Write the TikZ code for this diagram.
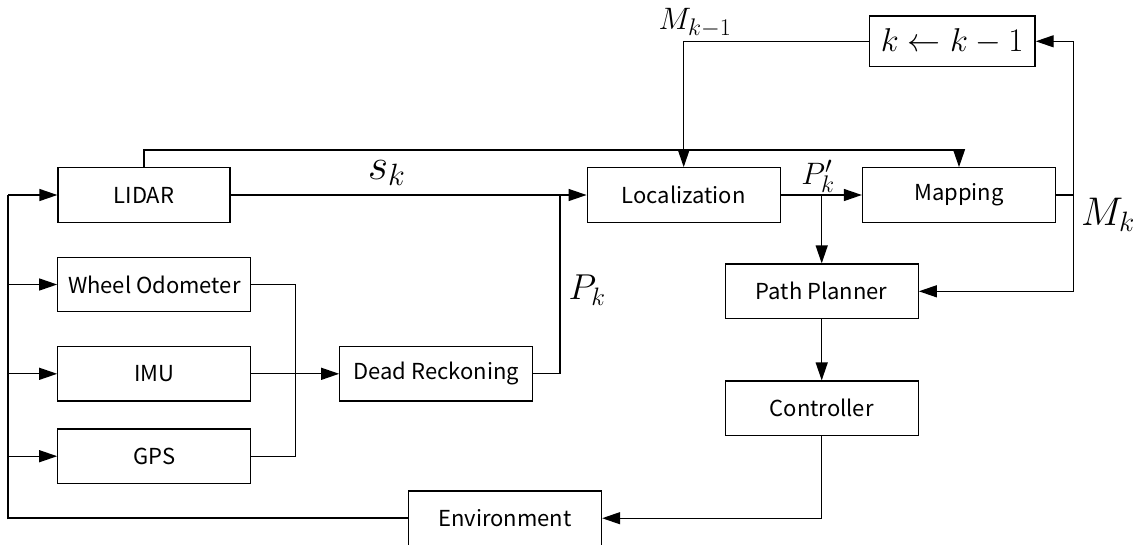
\RequirePackage{fix-cm}
\documentclass[tikz,border=0pt]{standalone}
\usepackage{fontspec}
\newfontfamily\boxfont{Noto Sans CJK JP}
\usetikzlibrary{arrows.meta}
\DeclareMathSizes{31}{31}{24}{18}
\tikzset{
  blk/.style={draw, line width=1.3pt, inner sep=0pt, minimum height=54.5pt, minimum width=193pt, font=\boxfont\fontsize{22}{26}\selectfont},
  conn/.style={line width=1.3pt},
  arr/.style={conn, -{Triangle[length=18pt,width=12pt]}},
  lbl/.style={inner sep=0pt},
}
\begin{document}
\begin{tikzpicture}[x=1pt,y=-1pt]
\useasboundingbox (0,0) rectangle (1139,544);
% boxes
\node[blk, minimum width=172pt] (lidar) at (144,195) {LIDAR};
\node[blk] (wheel) at (154.3,284.5) {Wheel Odometer};
\node[blk] (imu) at (154.3,373.8) {IMU};
\node[blk] (gps) at (154.3,456.2) {GPS};
\node[blk] (dead) at (436.3,373.8) {Dead Reckoning};
\node[blk] (loc) at (683.7,195) {Localization};
\node[blk] (map) at (959,195) {Mapping};
\node[blk, minimum width=165.7pt, minimum height=50.7pt, font=\fontsize{33}{36}\selectfont] (kbox) at (952.2,41.3) {$k\leftarrow k-1$};
\node[blk] (path) at (821.7,291.3) {Path Planner};
\node[blk] (ctrl) at (821.7,408.3) {Controller};
\node[blk] (env) at (505,518.2) {Environment};
% coordinates
\coordinate (left) at (8,195);
\coordinate (merge) at (295.7,373.8);
\coordinate (pk) at (560,195);
\coordinate (branch) at (821.7,195);
\coordinate (mk) at (1073.3,195);
% connectors
\draw[arr] (lidar.east) -- (loc.west);
\draw[arr] (lidar.north) |- (959,150) -- (map.north);
\draw[arr] (kbox.west) -| (loc.north);
\draw[conn] (dead.east) -| (pk);
\draw[conn] (wheel.east) -| (merge);
\draw[conn] (gps.east) -| (merge);
\draw[arr] (imu.east) -- (dead.west);
\draw[arr] (loc.east) -- (map.west);
\draw[arr] (branch) -- (path.north);
\draw[conn] (map.east) -- (mk);
\draw[arr] (mk) |- (kbox.east);
\draw[arr] (mk) |- (path.east);
\draw[arr] (path.south) -- (ctrl.north);
\draw[arr] (ctrl.south) |- (env.east);
\draw[line width=2.2pt] (env.west) -- (8,518.2);
\draw[line width=1.6pt] (8,519.3) -- (left);
\draw[arr] (left) -- (lidar.west);
\draw[arr] (8,284.5) -- (wheel.west);
\draw[arr] (8,373.8) -- (imu.west);
\draw[arr] (8,456.2) -- (gps.west);
% labels
\node[lbl, font=\fontsize{44}{48}\selectfont] (sk) at (386.7,173) {$s_k$};
\node[lbl, font=\fontsize{36}{40}\selectfont] (pklbl) at (587,290) {$P_k$};
\node[lbl, font=\fontsize{31}{34}\selectfont] (pplbl) at (818,176) {$P'_k$};
\node[lbl, font=\fontsize{31}{34}\selectfont] (mk1lbl) at (695,23) {$M_{k-1}$};
\node[lbl, font=\fontsize{40}{44}\selectfont] (mklbl) at (1108,215) {$M_k$};
\end{tikzpicture}
\end{document}
